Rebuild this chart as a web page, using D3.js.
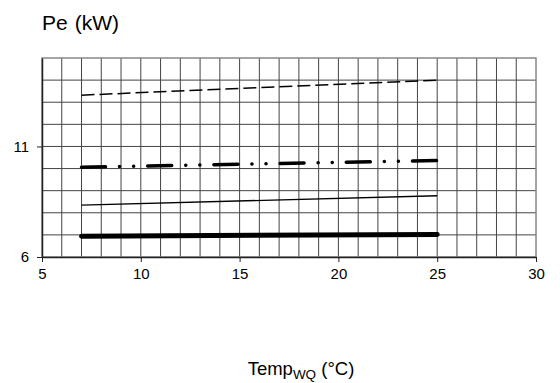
<!DOCTYPE html>
<html>
<head>
<meta charset="utf-8">
<script src="https://cdn.jsdelivr.net/npm/d3@7"></script>
<style>
  body { margin: 0; background: #fff; }
  text { font-family: "Liberation Sans", Arial, sans-serif; fill: #000; }
</style>
</head>
<body>
<div id="chart"></div>
<script>
// dữ liệu
const temps = [7, 25];
const seriesDashed = [13.32, 14.0];
const seriesDashDot = [10.06, 10.36];
const seriesThin = [8.35, 8.77];
const seriesThick = [6.94, 7.02];
const xTicks = [5, 10, 15, 20, 25, 30];
const yTicks = [6, 11];

const width = 560, height = 383;
const margin = { top: 58, right: 24, bottom: 126, left: 42 };
const w = width - margin.left - margin.right;
const h = height - margin.top - margin.bottom;

const svg = d3.select("#chart").append("svg")
  .attr("width", width)
  .attr("height", height);

const g = svg.append("g")
  .attr("transform", "translate(" + margin.left + "," + margin.top + ")");

const x = d3.scaleLinear().domain([5, 30]).range([0, w]);
const y = d3.scaleLinear().domain([6, 15]).range([h, 0]);

// lưới
g.selectAll(".vgrid")
  .data(d3.range(6, 30))
  .enter().append("line")
  .attr("x1", d => x(d)).attr("x2", d => x(d))
  .attr("y1", 0).attr("y2", h)
  .attr("stroke", "#444").attr("stroke-width", 1);

g.selectAll(".hgrid")
  .data(d3.range(7, 15))
  .enter().append("line")
  .attr("x1", 0).attr("x2", w)
  .attr("y1", d => y(d)).attr("y2", d => y(d))
  .attr("stroke", "#444").attr("stroke-width", 1);

g.append("rect")
  .attr("x", 0).attr("y", 0)
  .attr("width", w).attr("height", h)
  .attr("fill", "none")
  .attr("stroke", "#888").attr("stroke-width", 1.5);

// trục
const xAxis = g.append("g")
  .attr("transform", "translate(0," + h + ")")
  .call(d3.axisBottom(x).tickValues(xTicks).tickSize(5).tickSizeOuter(0).tickPadding(6));
xAxis.select(".domain").attr("stroke", "#222").attr("stroke-width", 1.5);
xAxis.selectAll("line").attr("stroke", "#222");
xAxis.selectAll("text").style("font-size", "15px").style("font-family", "Liberation Sans, Arial, sans-serif");

const yAxis = g.append("g")
  .call(d3.axisLeft(y).tickValues(yTicks).tickSize(5).tickSizeOuter(0).tickPadding(8));
yAxis.select(".domain").attr("stroke", "#222").attr("stroke-width", 1.5);
yAxis.selectAll("line").attr("stroke", "#222");
yAxis.selectAll("text").style("font-size", "15px").style("font-family", "Liberation Sans, Arial, sans-serif");

// các đường
const line = d3.line()
  .x((d, i) => x(temps[i]))
  .y(d => y(d));

g.append("path").datum(seriesDashed)
  .attr("d", line).attr("fill", "none")
  .attr("stroke", "#000").attr("stroke-width", 1.5)
  .attr("stroke-dasharray", "13,5");

g.append("path").datum(seriesDashDot)
  .attr("d", line).attr("fill", "none")
  .attr("stroke", "#000").attr("stroke-width", 3.5)
  .attr("stroke-linecap", "round")
  .attr("stroke-dasharray", "24,14,0.1,14,0.1,14");

g.append("path").datum(seriesThin)
  .attr("d", line).attr("fill", "none")
  .attr("stroke", "#000").attr("stroke-width", 1.3);

g.append("path").datum(seriesThick)
  .attr("d", line).attr("fill", "none")
  .attr("stroke", "#000").attr("stroke-width", 5)
  .attr("stroke-linecap", "round");

// tiêu đề
const title = svg.append("text")
  .attr("x", 42).attr("y", 30)
  .style("font-size", "21px");
title.append("tspan").text("Pe");
title.append("tspan").attr("dx", 7).text("(kW)");

const xl = svg.append("text")
  .attr("x", 301).attr("y", 375)
  .attr("text-anchor", "middle")
  .style("font-size", "18.5px");
xl.append("tspan").text("Temp");
xl.append("tspan").attr("dy", 4).style("font-size", "13.5px").text("WQ");
xl.append("tspan").attr("dy", -4).text(" (°C)");
</script>
</body>
</html>
